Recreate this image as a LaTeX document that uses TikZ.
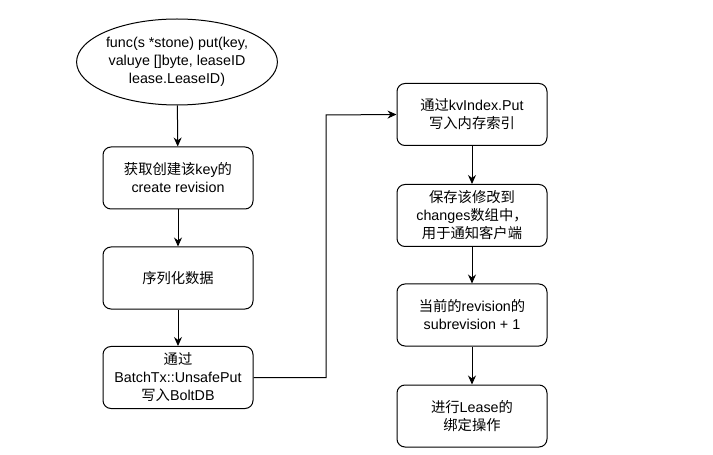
\documentclass[tikz,border=0pt]{standalone}
\usepackage{fontspec}
\setmainfont{Liberation Sans}
\newfontfamily\cjk{Noto Sans CJK SC}
\usetikzlibrary{arrows.meta,shapes.geometric}
\begin{document}
\begin{tikzpicture}[x=1bp,y=-1bp,
  every node/.style={font=\fontsize{14.3bp}{18bp}\selectfont, align=center, line width=1bp},
  procbox/.style={draw, rectangle, rounded corners=8bp, minimum width=150bp, minimum height=62bp, inner sep=2bp},
  startell/.style={draw, ellipse, minimum width=186bp, minimum height=86bp, inner sep=0bp},
  arr/.style={line width=1bp, -{Stealth[length=9bp,width=8bp]}}]
\useasboundingbox (0,0) rectangle (713,455);
\node[startell] (e) at (177,62) {func(s *stone) put(key,\\valuye []byte, leaseID\\lease.LeaseID)};
\node[procbox] (b1) at (178,178) {{\cjk 获取创建该}key{\cjk 的}\\create revision};
\node[procbox] (b2) at (178,278) {{\cjk 序列化数据}};
\node[procbox] (b3) at (178,377.5) {{\cjk 通过}\\BatchTx::UnsafePut\\{\cjk 写入}BoltDB};
\node[procbox] (b4) at (472,114.5) {{\cjk 通过}kvIndex.Put\\{\cjk 写入内存索引}};
\node[procbox] (b5) at (472,215.5) {{\cjk 保存该修改到}\\changes{\cjk 数组中，}\\{\cjk 用于通知客户端}};
\node[procbox] (b6) at (472,315) {{\cjk 当前的}revision{\cjk 的}\\subrevision + 1};
\node[procbox] (b7) at (472,416) {{\cjk 进行}Lease{\cjk 的}\\{\cjk 绑定操作}};
\coordinate (turn) at (326,115);
\draw[arr] (e) -- (b1);
\draw[arr] (b1) -- (b2);
\draw[arr] (b2) -- (b3);
\draw[arr] (b3.east) -| (turn) -- (b4.west);
\draw[arr] (b4) -- (b5);
\draw[arr] (b5) -- (b6);
\draw[arr] (b6) -- (b7);
\end{tikzpicture}
\end{document}
